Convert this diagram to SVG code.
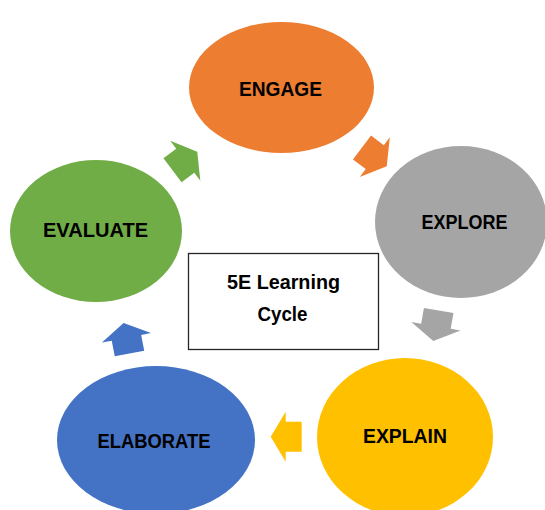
<svg xmlns="http://www.w3.org/2000/svg" width="545" height="510" viewBox="0 0 545 510">
<style>
.lbl{font-family:"Liberation Sans",Arial,sans-serif;font-weight:bold;font-size:21px;fill:#000;text-anchor:middle}
</style>
<defs>
<path id="arr" d="M0,-15 L16,-15 L16,-25 L31,0 L16,25 L16,15 L0,15 Z"/>
</defs>
<rect width="545" height="510" fill="#fff"/>
<g id="engage">
<ellipse cx="281.5" cy="87.5" rx="92.5" ry="65.5" fill="#ED7D31"/>
<text class="lbl" x="280.5" y="96" textLength="83" lengthAdjust="spacingAndGlyphs">ENGAGE</text>
</g>
<g id="explore">
<ellipse cx="461" cy="222" rx="86" ry="76" fill="#A5A5A5"/>
<text class="lbl" x="464.5" y="228.5" textLength="86" lengthAdjust="spacingAndGlyphs">EXPLORE</text>
</g>
<g id="explain">
<ellipse cx="405" cy="437" rx="88" ry="79" fill="#FFC000"/>
<text class="lbl" x="405" y="443" textLength="84" lengthAdjust="spacingAndGlyphs">EXPLAIN</text>
</g>
<g id="elaborate">
<ellipse cx="156" cy="440" rx="99" ry="74" fill="#4472C4"/>
<text class="lbl" x="154" y="448" textLength="113" lengthAdjust="spacingAndGlyphs">ELABORATE</text>
</g>
<g id="evaluate">
<ellipse cx="96" cy="231" rx="86" ry="71" fill="#70AD47"/>
<text class="lbl" x="95.5" y="237" textLength="105" lengthAdjust="spacingAndGlyphs">EVALUATE</text>
</g>
<g id="center">
<rect x="188.5" y="253.5" width="190" height="96" fill="#fff" stroke="#262626" stroke-width="1.3"/>
<text class="lbl" x="283.5" y="288.5" textLength="113" lengthAdjust="spacingAndGlyphs">5E Learning</text>
<text class="lbl" x="282.5" y="320.5" textLength="50" lengthAdjust="spacingAndGlyphs">Cycle</text>
</g>
<g id="connectors">
<use href="#arr" fill="#ED7D31" transform="translate(362,147.5) rotate(37)"/>
<use href="#arr" fill="#A5A5A5" transform="translate(438.7,310.5) rotate(100)"/>
<use href="#arr" fill="#FFC000" transform="translate(301.7,436.7) rotate(180)"/>
<use href="#arr" fill="#4472C4" transform="translate(129.5,353.5) rotate(-101)"/>
<use href="#arr" fill="#70AD47" transform="translate(172.5,170.3) rotate(-37)"/>
</g>
</svg>
